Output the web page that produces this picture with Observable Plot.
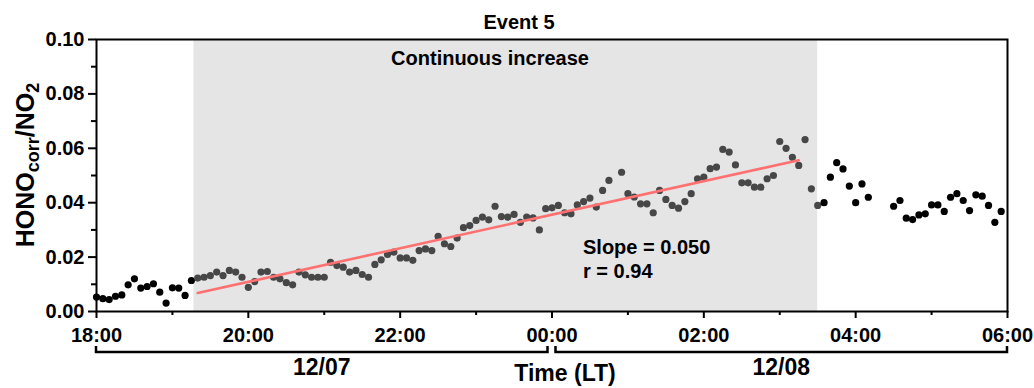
<!DOCTYPE html>
<html>
<head>
<meta charset="utf-8">
<script src="https://cdn.jsdelivr.net/npm/d3@7"></script>
<script src="https://cdn.jsdelivr.net/npm/@observablehq/plot@0.6"></script>
<style>
  html, body { margin: 0; padding: 0; background: #fff; }
</style>
</head>
<body>
<div id="chart"></div>
<script>
// HONOcorr/NO2 ratio, 5-min samples, 12/07 18:00 to 12/08 06:00 (local time)

// before the event
const beforeTimes = ["18:00","18:05","18:10","18:15","18:20","18:25","18:30","18:35","18:40","18:45","18:50","18:55","19:00","19:05","19:10","19:15"];
const beforeValues = [0.0053,0.0047,0.0044,0.0056,0.0061,0.0098,0.0120,0.0086,0.0092,0.0102,0.0071,0.0031,0.0087,0.0086,0.0059,0.0114];

// continuous-increase period
const eventTimes = [
  "19:20","19:25","19:30","19:35","19:40","19:45","19:50","19:55",
  "20:00","20:05","20:10","20:15","20:20","20:25","20:30","20:35","20:40","20:45","20:50","20:55",
  "21:00","21:05","21:10","21:15","21:20","21:25","21:30","21:35","21:40","21:45","21:50","21:55",
  "22:00","22:05","22:10","22:15","22:20","22:25","22:30","22:35","22:40","22:45","22:50","22:55",
  "23:00","23:05","23:10","23:15","23:20","23:25","23:30","23:35","23:40","23:45","23:50","23:55",
  "00:00","00:05","00:10","00:15","00:20","00:25","00:30","00:35","00:40","00:45","00:55",
  "01:00","01:05","01:10","01:15","01:20","01:25","01:30","01:35","01:40","01:45","01:50","01:55",
  "02:00","02:05","02:10","02:15","02:20","02:25","02:30","02:35","02:40","02:45","02:50","02:55",
  "03:00","03:05","03:10","03:15","03:20","03:25","03:30"
];
const eventValues = [
  0.0123,0.0126,0.0132,0.0145,0.0132,0.0151,0.0145,0.0126,
  0.0089,0.0110,0.0145,0.0147,0.0126,0.0120,0.0106,0.0098,0.0145,0.0135,0.0126,0.0126,
  0.0126,0.0181,0.0169,0.0163,0.0145,0.0151,0.0136,0.0126,0.0173,0.0190,0.0210,0.0218,
  0.0197,0.0197,0.0188,0.0224,0.0230,0.0224,0.0276,0.0249,0.0239,0.0270,0.0308,0.0316,
  0.0335,0.0347,0.0337,0.0387,0.0349,0.0347,0.0357,0.0328,0.0347,0.0344,0.0300,0.0378,
  0.0381,0.0390,0.0363,0.0359,0.0392,0.0404,0.0417,0.0384,0.0445,0.0482,0.0512,
  0.0433,0.0421,0.0396,0.0396,0.0363,0.0445,0.0412,0.0390,0.0380,0.0404,0.0433,0.0488,
  0.0494,0.0525,0.0531,0.0596,0.0586,0.0539,0.0473,0.0473,0.0457,0.0457,0.0488,0.0500,
  0.0625,0.0600,0.0567,0.0537,0.0632,0.0451,0.0390
];

// after the event
const afterTimes = ["03:35","03:40","03:45","03:50","03:55","04:00","04:05","04:10",
  "04:30","04:35","04:40","04:45","04:50","04:55","05:00","05:05","05:10","05:15","05:20","05:25","05:30","05:35","05:40","05:45","05:50","05:55"];
const afterValues = [0.0400,0.0494,0.0547,0.0524,0.0461,0.0400,0.0469,0.0420,
  0.0387,0.0408,0.0343,0.0338,0.0355,0.0359,0.0392,0.0392,0.0368,0.0420,0.0433,0.0408,0.0371,0.0429,0.0424,0.0390,0.0328,0.0368];

// shaded period and regression window
const shadeStart = "19:17", shadeEnd = "03:30";
const fitStart = "19:20", fitEnd = "03:15";

// axes
const xTicks = ["18:00","20:00","22:00","00:00","02:00","04:00","06:00"];
const xMinorTicks = ["19:00","21:00","23:00","01:00","03:00","05:00"];
const yTicks = [0, 0.02, 0.04, 0.06, 0.08, 0.10];
const yMinorTicks = [0.01, 0.03, 0.05, 0.07, 0.09];

// date brackets under the time axis
const dayLabels = ["12/07", "12/08"];
const dayStarts = ["18:00", "00:00"];
const dayEnds = ["00:00", "06:00"];

const titleText = "Event 5";
const periodText = "Continuous increase";
const slopeText = "Slope = 0.050";
const rText = "r = 0.94";
const xTitle = "Time (LT)";

// hours elapsed since 18:00 on 12/07
function hoursSince18(s) {
  const [h, m] = s.split(":").map(Number);
  let v = h + m / 60;
  if (v < 18) v += 24;
  return v - 18;
}
const rows = (times, values) => times.map((t, i) => ({t: hoursSince18(t), v: values[i]}));

const before = rows(beforeTimes, beforeValues);
const event = rows(eventTimes, eventValues);
const after = rows(afterTimes, afterValues);
const fitRows = event.filter(d => d.t >= hoursSince18(fitStart) && d.t <= hoursSince18(fitEnd));

const xTickLabel = new Map(xTicks.map(s => [hoursSince18(s), s]));

const font = "'Liberation Sans', Arial, sans-serif";

const plot = Plot.plot({
  width: 1034,
  height: 388,
  marginLeft: 96,
  marginRight: 27,
  marginTop: 39,
  marginBottom: 77,
  style: {fontFamily: font, fontWeight: "bold", fontSize: "19px", color: "#000", background: "#fff"},
  x: {domain: [hoursSince18("18:00"), hoursSince18("06:00")], label: null},
  y: {domain: [0, 0.1], label: null},
  marks: [
    Plot.rect([{x1: hoursSince18(shadeStart), x2: hoursSince18(shadeEnd)}], {x1: "x1", x2: "x2", fill: "#e5e5e5"}),
    Plot.axisY({ticks: yTicks, tickFormat: d3.format(".2f"), tickSize: 8, tickPadding: 4, strokeWidth: 2, fontSize: 20, label: null}),
    Plot.axisY({ticks: yMinorTicks, tickSize: 5, tickFormat: () => "", strokeWidth: 2, label: null}),
    Plot.axisX({ticks: xTicks.map(hoursSince18), tickFormat: d => xTickLabel.get(d), tickSize: 7, tickPadding: 9, strokeWidth: 2, fontSize: 20, label: null}),
    Plot.axisX({ticks: xMinorTicks.map(hoursSince18), tickSize: 4, tickFormat: () => "", strokeWidth: 2, label: null}),
    Plot.dot(before, {x: "t", y: "v", r: 3.6, fill: "#000"}),
    Plot.dot(event, {x: "t", y: "v", r: 3.6, fill: "#474747"}),
    Plot.dot(after, {x: "t", y: "v", r: 3.6, fill: "#000"}),
    Plot.linearRegressionY(fitRows, {x: "t", y: "v", stroke: "#ff7070", strokeWidth: 2.6, ci: 0}),
    Plot.frame({stroke: "#000", strokeWidth: 2})
  ]
});

const xs = plot.scale("x");
const ys = plot.scale("y");
const svg = d3.select(plot);

function label(text, x, y, size, anchor = "middle") {
  return svg.append("text")
    .attr("x", x).attr("y", y)
    .attr("text-anchor", anchor)
    .attr("font-size", size)
    .attr("font-weight", "bold")
    .attr("font-family", font)
    .attr("fill", "#000")
    .text(text);
}

// title and in-plot annotations
label(titleText, 519, 29, 20);
label(periodText, 490, 65, 20);
label(slopeText, 583, 254, 20, "start");
label(rText, 583, 278, 20, "start");

// y-axis title with subscripts
const yMid = (ys.apply(0) + ys.apply(0.1)) / 2 - 10;
const yt = svg.append("text")
  .attr("transform", `translate(34,${yMid}) rotate(-90)`)
  .attr("text-anchor", "middle")
  .attr("font-size", 25)
  .attr("font-weight", "bold")
  .attr("font-family", font);
yt.append("tspan").text("HONO");
yt.append("tspan").attr("font-size", 18).attr("dy", 5).text("corr");
yt.append("tspan").attr("dy", -5).text("/NO");
yt.append("tspan").attr("font-size", 18).attr("dy", 5).text("2");

// date brackets
const bracketY = 352, bracketTop = 346, gap = 4;
dayLabels.forEach((lab, i) => {
  const a = xs.apply(hoursSince18(dayStarts[i])) + (i > 0 ? gap : 0);
  const b = xs.apply(hoursSince18(dayEnds[i])) - (i < dayLabels.length - 1 ? gap : 0);
  svg.append("path")
    .attr("d", `M${a},${bracketTop}V${bracketY}H${b}V${bracketTop}`)
    .attr("fill", "none")
    .attr("stroke", "#000")
    .attr("stroke-width", 2.5);
  label(lab, (a + b) / 2, 375, 23);
});

// x-axis title
label(xTitle, 565, 381, 23);

document.getElementById("chart").append(plot);
</script>
</body>
</html>
